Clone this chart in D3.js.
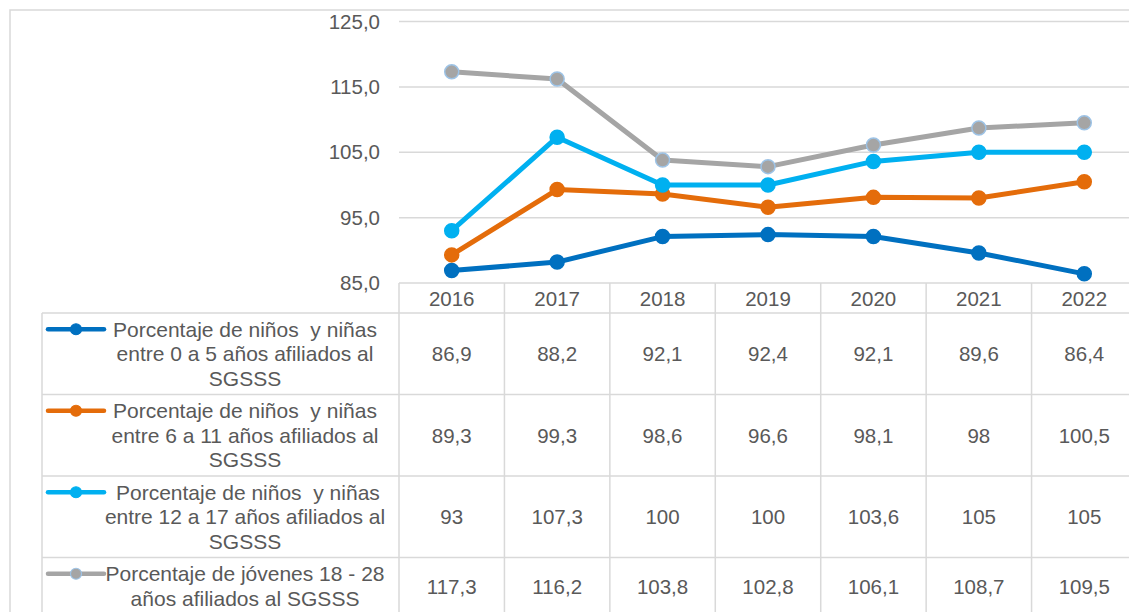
<!DOCTYPE html>
<html>
<head>
<meta charset="utf-8">
<script src="https://cdn.jsdelivr.net/npm/d3@7"></script>
<style>
  html, body { margin: 0; padding: 0; background: #fff; overflow: hidden; }
  svg { display: block; }
  text { font-family: "Liberation Sans", Arial, sans-serif; fill: #595959; white-space: pre; }
</style>
</head>
<body>
<svg id="chart" width="1129" height="612"></svg>
<script>
// ---- data ----
const years = ["2016", "2017", "2018", "2019", "2020", "2021", "2022"];
const yTicks = [85, 95, 105, 115, 125];

const seriesNames = [
  ["Porcentaje de niños  y niñas", "entre 0 a 5 años afiliados al", "SGSSS"],
  ["Porcentaje de niños  y niñas", "entre 6 a 11 años afiliados al", "SGSSS"],
  [" Porcentaje de niños  y niñas", "entre 12 a 17 años afiliados al", "SGSSS"],
  ["Porcentaje de jóvenes 18 - 28", "años afiliados al SGSSS"]
];
const ninos0a5   = [86.9, 88.2, 92.1, 92.4, 92.1, 89.6, 86.4];
const ninos6a11  = [89.3, 99.3, 98.6, 96.6, 98.1, 98, 100.5];
const ninos12a17 = [93, 107.3, 100, 100, 103.6, 105, 105];
const jovenes18a28 = [117.3, 116.2, 103.8, 102.8, 106.1, 108.7, 109.5];
const seriesValues = [ninos0a5, ninos6a11, ninos12a17, jovenes18a28];
const seriesColors = ["#0070C0", "#E46C0A", "#00B0F0", "#A5A5A5"];
const markerStroke = ["#0070C0", "#E46C0A", "#00B0F0", "#9DC3E6"];

// ---- layout ----
const svg = d3.select("#chart");
const gridColor = "#D9D9D9";
const numSize = 20.5;
const nameSize = 21;
const plotLeft = 399, plotRight = 1137;
const yTop = 21.5, yBottom = 283;
const headerH = 30;
const lineH = 24.5;
const rowPad = 8;

const locale = d3.formatLocale({decimal: ",", thousands: ".", grouping: [3], currency: ["", ""]});
const fmtAxis = locale.format(".1f");
const fmtVal = locale.format(".1~f");

const x = d3.scaleBand().domain(years).range([plotLeft, plotRight]).padding(0);
const y = d3.scaleLinear().domain([85, 125]).range([yBottom, yTop]);

// outer chart border
svg.append("rect")
  .attr("x", 10).attr("y", 10)
  .attr("width", 1140).attr("height", 700)
  .attr("fill", "none").attr("stroke", gridColor).attr("stroke-width", 1.5);

// gridlines
svg.append("g").selectAll("line").data(yTicks.filter(d => d !== 85)).join("line")
  .attr("x1", plotLeft).attr("x2", plotRight)
  .attr("y1", d => y(d)).attr("y2", d => y(d))
  .attr("stroke", gridColor).attr("stroke-width", 1.5);

// y axis labels
const yAxis = d3.axisLeft(y).tickValues(yTicks).tickFormat(fmtAxis).tickSize(0).tickPadding(0);
const yg = svg.append("g").attr("transform", `translate(380,0)`).call(yAxis);
yg.select(".domain").remove();
yg.selectAll("text").attr("font-size", numSize).attr("font-family", "Liberation Sans, Arial, sans-serif").attr("fill", "#595959");

// ---- data table ----
const rowHeights = seriesNames.map(l => l.length * lineH + rowPad);
const rowTops = [];
let acc = yBottom + headerH;
rowHeights.forEach(h => { rowTops.push(acc); acc += h; });
const tableBottom = acc;
const legendLeft = 42;

const tg = svg.append("g");
// header top line (axis)
tg.append("line").attr("x1", plotLeft).attr("x2", plotRight).attr("y1", yBottom).attr("y2", yBottom)
  .attr("stroke", gridColor).attr("stroke-width", 1.5);
// horizontal row lines
tg.selectAll("line.row").data(rowTops.concat([tableBottom])).join("line").attr("class", "row")
  .attr("x1", legendLeft).attr("x2", plotRight)
  .attr("y1", d => d).attr("y2", d => d)
  .attr("stroke", gridColor).attr("stroke-width", 1.5);
// vertical column lines
const colEdges = years.map(yr => x(yr)).concat([plotRight]);
tg.selectAll("line.col").data(colEdges).join("line").attr("class", "col")
  .attr("x1", d => d).attr("x2", d => d)
  .attr("y1", yBottom).attr("y2", tableBottom)
  .attr("stroke", gridColor).attr("stroke-width", 1.5);
tg.append("line").attr("x1", legendLeft).attr("x2", legendLeft)
  .attr("y1", rowTops[0]).attr("y2", tableBottom)
  .attr("stroke", gridColor).attr("stroke-width", 1.5);

// year header labels
tg.selectAll("text.year").data(years).join("text").attr("class", "year")
  .attr("x", d => x(d) + x.bandwidth() / 2)
  .attr("y", yBottom + headerH / 2)
  .attr("text-anchor", "middle").attr("dominant-baseline", "central")
  .attr("font-size", numSize).text(d => d);

// rows: legend keys, names, values
seriesValues.forEach((vals, s) => {
  const top = rowTops[s], h = rowHeights[s];
  const cy = top + h / 2;
  const lines = seriesNames[s];
  const firstLineY = cy - (lines.length - 1) / 2 * lineH;
  // legend key
  tg.append("line").attr("x1", 48).attr("x2", 104)
    .attr("y1", firstLineY).attr("y2", firstLineY)
    .attr("stroke", seriesColors[s]).attr("stroke-width", 4.5).attr("stroke-linecap", "round");
  tg.append("circle").attr("cx", 76).attr("cy", firstLineY).attr("r", 5.5)
    .attr("fill", seriesColors[s]).attr("stroke", markerStroke[s]).attr("stroke-width", 1.2);
  // name text
  tg.append("g").selectAll("text").data(lines).join("text")
    .attr("x", 245)
    .attr("y", (d, i) => firstLineY + i * lineH)
    .attr("text-anchor", "middle").attr("dominant-baseline", "central")
    .attr("font-size", nameSize).text(d => d);
  // values
  tg.append("g").selectAll("text").data(vals).join("text")
    .attr("x", (d, i) => x(years[i]) + x.bandwidth() / 2)
    .attr("y", cy)
    .attr("text-anchor", "middle").attr("dominant-baseline", "central")
    .attr("font-size", numSize).text(d => fmtVal(d));
});

// ---- lines & markers ----
const line = d3.line().x((d, i) => x(years[i]) + x.bandwidth() / 2).y(d => y(d));
const lg = svg.append("g");
seriesValues.forEach((vals, s) => {
  lg.append("path").datum(vals).attr("d", line)
    .attr("fill", "none").attr("stroke", seriesColors[s]).attr("stroke-width", 5)
    .attr("stroke-linejoin", "round").attr("stroke-linecap", "round");
});
seriesValues.forEach((vals, s) => {
  lg.append("g").selectAll("circle").data(vals).join("circle")
    .attr("cx", (d, i) => x(years[i]) + x.bandwidth() / 2)
    .attr("cy", d => y(d))
    .attr("r", 7)
    .attr("fill", seriesColors[s]).attr("stroke", markerStroke[s]).attr("stroke-width", 1.5);
});
</script>
</body>
</html>
